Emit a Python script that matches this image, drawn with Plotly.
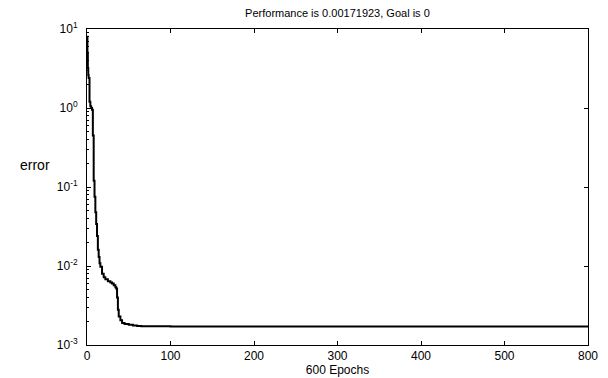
import plotly.graph_objects as go

# Training performance data
epochs = [0, 0.5, 1, 1.5, 2, 3, 4, 5, 6, 7, 8, 9, 10, 11, 12, 13, 14, 15, 16, 18, 20,
          22, 25, 28, 30, 32, 34, 35, 36, 37, 38, 40, 42, 45, 50, 55, 60, 65, 70,
          80, 100, 200, 300, 400, 500, 600]
errors = [8.0, 5.0, 3.2, 2.6, 2.4, 1.2, 1.05, 1.0, 0.95, 0.45, 0.12, 0.075, 0.048, 0.034,
          0.024, 0.016, 0.013, 0.0108, 0.0098, 0.008, 0.0072, 0.0068, 0.0064, 0.0062,
          0.006, 0.0057, 0.0054, 0.0052, 0.004, 0.0028, 0.0023, 0.00205, 0.0019,
          0.00185, 0.0018, 0.00176, 0.00174, 0.00173, 0.001725, 0.001722, 0.00172,
          0.00172, 0.00172, 0.001719, 0.001719, 0.00171923]

x_tick_vals = [0, 100, 200, 300, 400, 500, 600]
x_tick_text = ["0", "100", "200", "300", "400", "500", "800"]
y_tick_vals = [1e-3, 1e-2, 1e-1, 1e0, 1e1]
y_tick_text = ["10<sup>-3</sup>", "10<sup>-2</sup>", "10<sup>-1</sup>", "10<sup>0</sup>", "10<sup>1</sup>"]

title_text = "Performance is 0.00171923, Goal is 0"
x_title = "600 Epochs"
y_title = "error"

FONT = "Liberation Sans, Arial, Helvetica, sans-serif"

# log minor tick positions (2..9 within each decade), drawn by an overlay axis
minor_vals = [m * d for d in y_tick_vals[:-1] for m in range(2, 10)]

fig = go.Figure()
fig.add_trace(go.Scatter(
    x=epochs, y=errors, mode="lines",
    line=dict(color="black", width=2, shape="hv"),
    showlegend=False, hoverinfo="skip",
))
# same series bound to the overlay axis (invisible) so that the minor-tick axis is drawn
fig.add_trace(go.Scatter(
    x=epochs, y=errors, mode="lines", yaxis="y2", opacity=0,
    line=dict(color="black", width=0), showlegend=False, hoverinfo="skip",
))

fig.update_layout(
    width=608, height=378,
    margin=dict(l=87, r=20, t=29, b=33, autoexpand=False),
    paper_bgcolor="white", plot_bgcolor="white",
    font=dict(family=FONT, color="black", size=12),
    title=dict(text=title_text, x=0.555, xanchor="center", y=0.975, yanchor="top",
               font=dict(size=11, family=FONT, color="black")),
    showlegend=False,
    yaxis2=dict(
        type="log", range=[-3, 1], overlaying="y", side="left",
        tickmode="array", tickvals=minor_vals, showticklabels=False,
        ticks="inside", ticklen=2, tickcolor="black", tickwidth=1,
        showline=False, showgrid=False, zeroline=False, automargin=False,
    ),
)

fig.update_xaxes(
    range=[0, 600], tickvals=x_tick_vals, ticktext=x_tick_text,
    ticks="inside", ticklen=4, tickcolor="black", tickwidth=1,
    showline=True, linecolor="black", linewidth=1, mirror="ticks",
    showgrid=False, zeroline=False, automargin=False,
    tickfont=dict(size=12, family=FONT),
    title=dict(text=x_title, standoff=2, font=dict(size=12, family=FONT)),
)
fig.update_layout(yaxis=dict(
    type="log", range=[-3, 1], tickvals=y_tick_vals, ticktext=y_tick_text,
    ticks="inside", ticklen=4, tickcolor="black", tickwidth=1,
    showline=True, linecolor="black", linewidth=1, mirror="ticks",
    showgrid=False, zeroline=False, automargin=False,
    ticklabelstandoff=6,
    tickfont=dict(size=12, family=FONT),
))

fig.add_annotation(
    text=y_title, xref="paper", yref="paper", x=-0.104, y=0.57,
    xanchor="center", yanchor="middle", showarrow=False,
    font=dict(size=14, family=FONT, color="black"),
)

fig.write_html("out.html", config={"displayModeBar": False},
               post_script="document.body.style.margin='0';")
